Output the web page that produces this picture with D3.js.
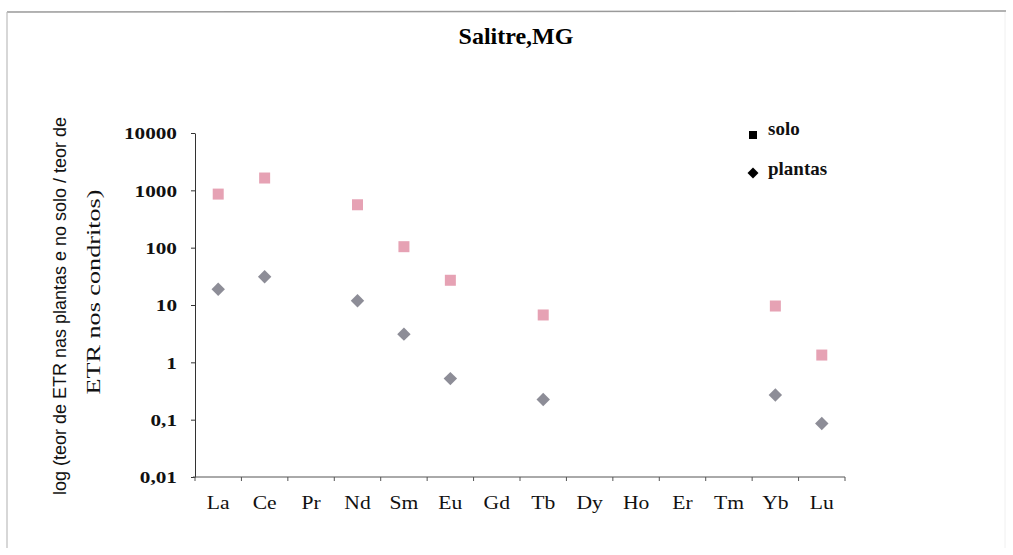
<!DOCTYPE html>
<html>
<head>
<meta charset="utf-8">
<script src="https://cdn.jsdelivr.net/npm/d3@7"></script>
<style>
  html, body { margin: 0; padding: 0; background: #fff; }
  svg { display: block; }
</style>
</head>
<body>
<svg id="chart" width="1013" height="555"></svg>
<script>
// ---- data ----
const categories = ["La","Ce","Pr","Nd","Sm","Eu","Gd","Tb","Dy","Ho","Er","Tm","Yb","Lu"];
const soloValues = [860, 1640, null, 560, 104, 27, null, 6.7, null, null, null, null, 9.6, 1.34];
const plantasValues = [18.8, 31, null, 11.9, 3.1, 0.52, null, 0.225, null, null, null, null, 0.27, 0.086];
const yTickValues = [0.01, 0.1, 1, 10, 100, 1000, 10000];
const yTickLabels = ["0,01", "0,1", "1", "10", "100", "1000", "10000"];
const seriesNames = ["solo", "plantas"];
const titleText = "Salitre,MG";
const yTitleLines = ["log (teor de ETR nas plantas e no solo / teor de", "ETR nos condritos)"];

// ---- layout ----
const svg = d3.select("#chart");
const plot = { left: 195, right: 845, top: 133, bottom: 477 };
const colors = { solo: "#e6a2b4", plantas: "#8d8d97" };

// frame of the scanned chart
svg.append("line").attr("x1", 7).attr("x2", 1006).attr("y1", 12).attr("y2", 11)
  .attr("stroke", "#9a9a9a").attr("stroke-width", 1.5);
svg.append("line").attr("x1", 7).attr("x2", 7).attr("y1", 12).attr("y2", 548)
  .attr("stroke", "#bdbdbd").attr("stroke-width", 1.2);
svg.append("line").attr("x1", 1005).attr("x2", 1005).attr("y1", 12).attr("y2", 548)
  .attr("stroke", "#f0f0f0").attr("stroke-width", 1);

const x = d3.scaleBand().domain(categories).range([plot.left, plot.right]).padding(0);
const y = d3.scaleLog().domain([0.01, 10000]).range([plot.bottom, plot.top]);

// y axis
const yAxis = d3.axisLeft(y).tickValues(yTickValues).tickSize(4).tickSizeOuter(0)
  .tickFormat((d, i) => yTickLabels[i]);
const gy = svg.append("g").attr("transform", `translate(${plot.left},0)`).call(yAxis);
gy.select(".domain").attr("stroke", "#333").attr("stroke-width", 1);
gy.selectAll(".tick line").attr("stroke", "#333");
gy.selectAll(".tick text")
  .attr("x", 0).attr("dy", "0.35em")
  .attr("transform", "translate(-18,0) scale(1.25,1)")
  .attr("font-family", "'Liberation Serif', 'Times New Roman', serif")
  .attr("font-weight", "bold").attr("font-size", 17).attr("fill", "#111");

// x axis
const gx = svg.append("g").attr("transform", `translate(0,${plot.bottom})`);
gx.append("line").attr("x1", plot.left - 2).attr("x2", plot.right)
  .attr("stroke", "#555").attr("stroke-width", 1);
const boundaries = categories.map(c => x(c)).concat([x(categories[categories.length - 1]) + x.bandwidth()]);
gx.selectAll("line.tk").data(boundaries).join("line").attr("class", "tk")
  .attr("x1", d => d).attr("x2", d => d).attr("y1", 0).attr("y2", 4)
  .attr("stroke", "#555");
gx.selectAll("text.cat").data(categories).join("text").attr("class", "cat")
  .attr("transform", d => `translate(${x(d) + x.bandwidth() / 2},32) scale(1.2,1)`)
  .attr("text-anchor", "middle")
  .attr("font-family", "'Liberation Serif', 'Times New Roman', serif")
  .attr("font-size", 18).attr("fill", "#111")
  .text(d => d);

// title
svg.append("text").attr("x", 516).attr("y", 44).attr("text-anchor", "middle")
  .attr("font-family", "'Liberation Serif', 'Times New Roman', serif")
  .attr("font-weight", "bold").attr("font-size", 24).attr("fill", "#000")
  .text(titleText);

// y axis title (two lines)
svg.append("text")
  .attr("transform", "translate(66,306) rotate(-90)")
  .attr("text-anchor", "middle")
  .attr("font-family", "'Liberation Sans', Arial, sans-serif")
  .attr("font-size", 18).attr("fill", "#111")
  .text(yTitleLines[0]);
svg.append("text")
  .attr("transform", "translate(100,292) rotate(-90)")
  .attr("text-anchor", "middle")
  .attr("textLength", 205).attr("lengthAdjust", "spacingAndGlyphs")
  .attr("font-family", "'Liberation Serif', 'Times New Roman', serif")
  .attr("font-size", 19).attr("fill", "#111")
  .text(yTitleLines[1]);

// markers
const cx = d => x(d) + x.bandwidth() / 2;
const soloData = categories.map((c, i) => ({ c, v: soloValues[i] })).filter(d => d.v != null);
const plantasData = categories.map((c, i) => ({ c, v: plantasValues[i] })).filter(d => d.v != null);

svg.append("g").selectAll("rect").data(soloData).join("rect")
  .attr("x", d => cx(d.c) - 5.5).attr("y", d => y(d.v) - 5.5)
  .attr("width", 11).attr("height", 11)
  .attr("fill", colors.solo);

const diamond = d3.symbol().type(d3.symbolSquare).size(90);
svg.append("g").selectAll("path").data(plantasData).join("path")
  .attr("d", diamond)
  .attr("transform", d => `translate(${cx(d.c)},${y(d.v)}) rotate(45)`)
  .attr("fill", colors.plantas);

// legend
const legend = svg.append("g");
legend.append("rect").attr("x", 749).attr("y", 131).attr("width", 8).attr("height", 8).attr("fill", "#000");
legend.append("path").attr("d", d3.symbol().type(d3.symbolSquare).size(60)())
  .attr("transform", "translate(753,173) rotate(45)").attr("fill", "#000");
legend.selectAll("text").data(seriesNames).join("text")
  .attr("x", 768).attr("y", (d, i) => 135 + i * 40)
  .attr("font-family", "'Liberation Serif', 'Times New Roman', serif")
  .attr("font-weight", "bold").attr("font-size", 19).attr("fill", "#111")
  .text(d => d);
</script>
</body>
</html>
